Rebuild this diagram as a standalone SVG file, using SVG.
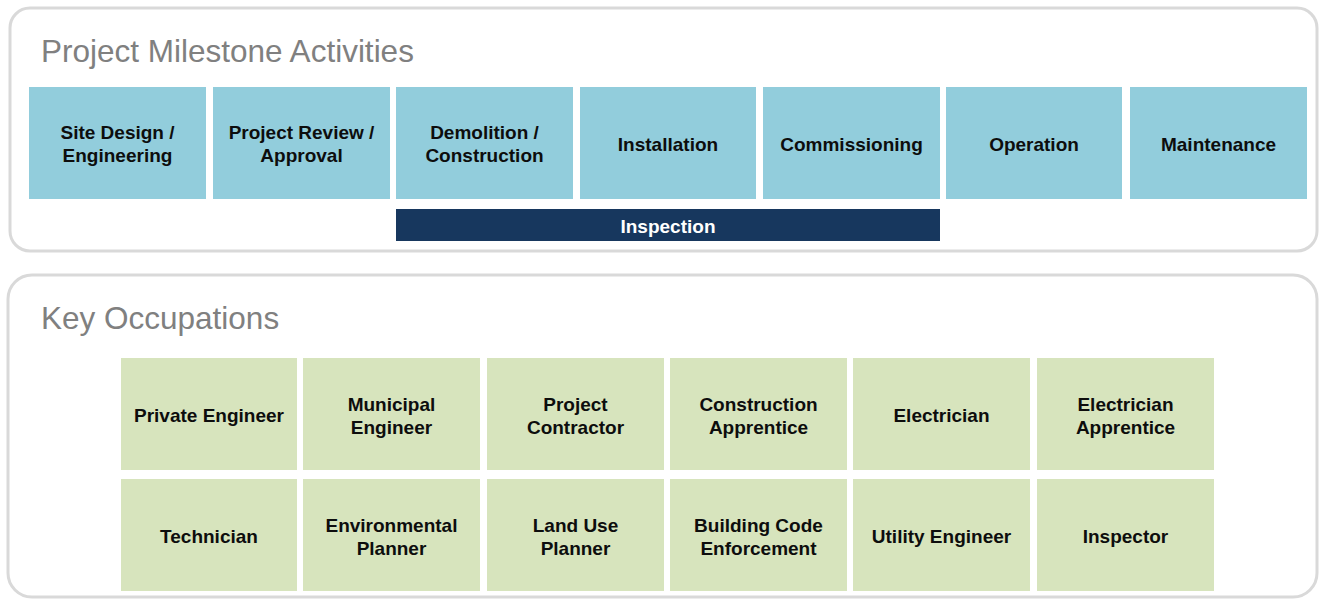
<svg xmlns="http://www.w3.org/2000/svg" width="1321" height="602" viewBox="0 0 1321 602">
<style>
.panel{fill:#ffffff;stroke:#d9d9d9;stroke-width:3}
.title{font-family:"Liberation Sans",Arial,sans-serif;font-size:31.5px;fill:#808080}
.act rect{fill:#92cddc;stroke:none}
.occ rect{fill:#d7e4bd;stroke:none}
.lbl{font-family:"Liberation Sans",Arial,sans-serif;font-size:19px;font-weight:bold;fill:#0d0d0d;text-anchor:middle;dominant-baseline:central}
.insp rect{fill:#17375e}
.insp text{fill:#ffffff}
</style>
<rect width="1321" height="602" fill="#ffffff"/>
<g id="panel-milestones">
<rect class="panel" x="10" y="8" width="1307" height="243" rx="20"/>
<text class="title" x="41" y="62">Project Milestone Activities</text>
</g>
<g id="panel-occupations">
<rect class="panel" x="8" y="275" width="1309" height="322" rx="24"/>
<text class="title" x="41" y="329">Key Occupations</text>
</g>
<g id="act-site" class="act"><rect x="29" y="87" width="177" height="112"/><text class="lbl" x="117.5" y="132">Site Design /</text><text class="lbl" x="117.5" y="155">Engineering</text></g>
<g id="act-review" class="act"><rect x="213" y="87" width="177" height="112"/><text class="lbl" x="301.5" y="132">Project Review /</text><text class="lbl" x="301.5" y="155">Approval</text></g>
<g id="act-demo" class="act"><rect x="396" y="87" width="177" height="112"/><text class="lbl" x="484.5" y="132">Demolition /</text><text class="lbl" x="484.5" y="155">Construction</text></g>
<g id="act-install" class="act"><rect x="580" y="87" width="176" height="112"/><text class="lbl" x="668" y="144">Installation</text></g>
<g id="act-commission" class="act"><rect x="763" y="87" width="177" height="112"/><text class="lbl" x="851.5" y="144">Commissioning</text></g>
<g id="act-operation" class="act"><rect x="946" y="87" width="176" height="112"/><text class="lbl" x="1034" y="144">Operation</text></g>
<g id="act-maint" class="act"><rect x="1130" y="87" width="177" height="112"/><text class="lbl" x="1218.5" y="144">Maintenance</text></g>
<g id="inspection" class="insp"><rect x="396" y="209" width="544" height="32"/><text class="lbl" x="668" y="226">Inspection</text></g>
<g id="occ-private" class="occ"><rect x="121" y="358" width="176" height="112"/><text class="lbl" x="209" y="415">Private Engineer</text></g>
<g id="occ-municipal" class="occ"><rect x="303" y="358" width="177" height="112"/><text class="lbl" x="391.5" y="404">Municipal</text><text class="lbl" x="391.5" y="427">Engineer</text></g>
<g id="occ-contractor" class="occ"><rect x="487" y="358" width="177" height="112"/><text class="lbl" x="575.5" y="404">Project</text><text class="lbl" x="575.5" y="427">Contractor</text></g>
<g id="occ-constr-app" class="occ"><rect x="670" y="358" width="177" height="112"/><text class="lbl" x="758.5" y="404">Construction</text><text class="lbl" x="758.5" y="427">Apprentice</text></g>
<g id="occ-electrician" class="occ"><rect x="853" y="358" width="177" height="112"/><text class="lbl" x="941.5" y="415">Electrician</text></g>
<g id="occ-elec-app" class="occ"><rect x="1037" y="358" width="177" height="112"/><text class="lbl" x="1125.5" y="404">Electrician</text><text class="lbl" x="1125.5" y="427">Apprentice</text></g>
<g id="occ-technician" class="occ"><rect x="121" y="479" width="176" height="112"/><text class="lbl" x="209" y="536">Technician</text></g>
<g id="occ-env" class="occ"><rect x="303" y="479" width="177" height="112"/><text class="lbl" x="391.5" y="525">Environmental</text><text class="lbl" x="391.5" y="548">Planner</text></g>
<g id="occ-landuse" class="occ"><rect x="487" y="479" width="177" height="112"/><text class="lbl" x="575.5" y="525">Land Use</text><text class="lbl" x="575.5" y="548">Planner</text></g>
<g id="occ-bcode" class="occ"><rect x="670" y="479" width="177" height="112"/><text class="lbl" x="758.5" y="525">Building Code</text><text class="lbl" x="758.5" y="548">Enforcement</text></g>
<g id="occ-utility" class="occ"><rect x="853" y="479" width="177" height="112"/><text class="lbl" x="941.5" y="536">Utility Engineer</text></g>
<g id="occ-inspector" class="occ"><rect x="1037" y="479" width="177" height="112"/><text class="lbl" x="1125.5" y="536">Inspector</text></g>
<g id="connectors"></g>
</svg>
